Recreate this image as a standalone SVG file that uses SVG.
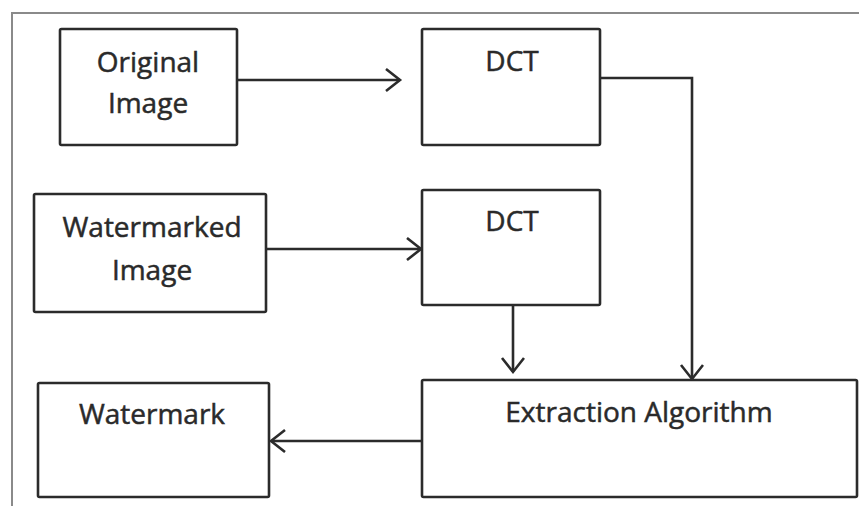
<svg xmlns="http://www.w3.org/2000/svg" width="859" height="506" viewBox="0 0 859 506">
<style>
.box{fill:#fff;stroke:#2b2b2b;stroke-width:2.6}
.lbl{font-family:"Open Sans","Liberation Sans",sans-serif;font-size:28px;fill:#2a2a2a;stroke:#2a2a2a;stroke-width:0.5;text-anchor:middle}
.conn{fill:none;stroke:#2b2b2b;stroke-width:2.6}
.frame{fill:none;stroke:#8a8a8a;stroke-width:2}
</style>
<defs>
<marker id="ah" markerUnits="userSpaceOnUse" markerWidth="20" markerHeight="26" refX="16" refY="12" orient="auto">
<path d="M2,1 L16,12 L2,23" fill="none" stroke="#2b2b2b" stroke-width="2.6"/>
</marker>
</defs>
<rect width="859" height="506" fill="#fff"/>
<path class="frame" d="M12,506 L12,13 L859,13"/>
<g id="original-image">
<rect class="box" x="60" y="29" width="177" height="116" rx="1.5"/>
<text class="lbl" x="148" y="72">Original</text>
<text class="lbl" x="148" y="113">Image</text>
</g>
<g id="dct1">
<rect class="box" x="422" y="29" width="178" height="116" rx="1.5"/>
<text class="lbl" x="512" y="71">DCT</text>
</g>
<g id="watermarked-image">
<rect class="box" x="34" y="194" width="232" height="118" rx="1.5"/>
<text class="lbl" x="152" y="237">Watermarked</text>
<text class="lbl" x="152" y="280">Image</text>
</g>
<g id="dct2">
<rect class="box" x="422" y="190" width="178" height="115" rx="1.5"/>
<text class="lbl" x="512" y="231">DCT</text>
</g>
<g id="extraction-algorithm">
<rect class="box" x="422" y="380" width="435" height="117" rx="1.5"/>
<text class="lbl" x="639" y="422">Extraction Algorithm</text>
</g>
<g id="watermark">
<rect class="box" x="38" y="383" width="231" height="114" rx="1.5"/>
<text class="lbl" x="152" y="424">Watermark</text>
</g>
<g id="connectors">
<path class="conn" d="M237,80 L400,80" marker-end="url(#ah)"/>
<path class="conn" d="M266,249 L421,249" marker-end="url(#ah)"/>
<path class="conn" d="M600,78 L692,78 L692,379" marker-end="url(#ah)"/>
<path class="conn" d="M513,305 L513,372" marker-end="url(#ah)"/>
<path class="conn" d="M422,441 L271,441" marker-end="url(#ah)"/>
</g>
</svg>
